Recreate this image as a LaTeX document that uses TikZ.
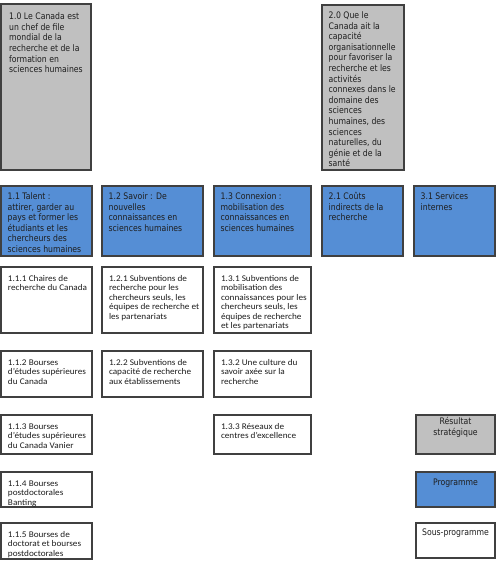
\documentclass[tikz,border=0pt]{standalone}
\usepackage{fontspec}
\newfontfamily\tahfont[FakeStretch=0.86]{DejaVu Sans}
\newfontfamily\calfont[FakeStretch=1.06]{Carlito}
\definecolor{bblue}{RGB}{85,142,213}
\definecolor{bgrey}{RGB}{192,192,192}
\definecolor{bline}{RGB}{64,64,64}
\definecolor{btext}{RGB}{30,30,30}
\newcommand\bx[7]{%
  \node[#1, minimum width=#5pt, minimum height=#6pt] (#2) at (#3,#4) {};
  \node[#1txt] (#2t) at (#2.north west) {\parbox[t]{150pt}{\raggedright #7}};}
\newcommand\lgtext[1]{\parbox[t]{120pt}{\centering #1}}
\tikzset{
  boxbase/.style={draw=bline, line width=1.1pt, anchor=north west, inner sep=0pt, outer sep=0pt},
  txtbase/.style={anchor=north west, text=btext, text height=7pt, inner xsep=6.5pt},
  greybox/.style={boxbase, fill=bgrey},
  greyboxtxt/.style={txtbase, inner ysep=6.3pt, font=\tahfont\fontsize{9}{10.6}\selectfont},
  greyonebox/.style={boxbase, fill=bgrey},
  greyoneboxtxt/.style={txtbase, inner ysep=8.6pt, inner xsep=8pt, font=\tahfont\fontsize{9}{10.6}\selectfont},
  bluebox/.style={boxbase, fill=bblue},
  blueboxtxt/.style={txtbase, inner ysep=6.3pt, font=\tahfont\fontsize{9}{10.6}\selectfont},
  whitebox/.style={boxbase, fill=white},
  whiteboxtxt/.style={txtbase, inner ysep=7pt, inner xsep=6.8pt, font=\calfont\fontsize{8.7}{9.5}\selectfont},
  legtxt/.style={anchor=north, text=btext, text height=7pt, inner xsep=0pt, font=\tahfont\fontsize{9}{10.6}\selectfont},
}
\begin{document}
\begin{tikzpicture}[x=1pt,y=-1pt]
\useasboundingbox (0,0) rectangle (500,561);
% strategic outcomes
\bx{greyonebox}{so1}{1}{4}{90}{166}{1.0 Le Canada est\\un chef de file\\mondial de la\\recherche et de la\\formation en\\sciences humaines}
\bx{greybox}{so2}{322}{5}{82}{165}{2.0 Que le\\Canada ait la\\capacité\\organisationnelle\\pour favoriser la\\recherche et les\\activités\\connexes dans le\\domaine des\\sciences\\humaines, des\\sciences\\naturelles, du\\génie et de la\\santé}
% programmes
\bx{bluebox}{p11}{1}{186}{91}{70}{1.1 Talent :\\attirer, garder au\\pays et former les\\étudiants et les\\chercheurs des\\sciences humaines}
\bx{bluebox}{p12}{102}{186}{101}{70}{1.2 Savoir : De\\nouvelles\\connaissances en\\sciences humaines}
\bx{bluebox}{p13}{214}{186}{97}{70}{1.3 Connexion :\\mobilisation des\\connaissances en\\sciences humaines}
\bx{bluebox}{p21}{322}{186}{81}{70}{2.1 Coûts\\indirects de la\\recherche}
\bx{bluebox}{p31}{414}{186}{81}{70}{3.1 Services\\internes}
% sub-programmes
\bx{whitebox}{s111}{1}{267}{91}{66}{1.1.1 Chaires de\\recherche du Canada}
\bx{whitebox}{s121}{102}{267}{101}{66}{1.2.1 Subventions de\\recherche pour les\\chercheurs seuls, les\\équipes de recherche et\\les partenariats}
\bx{whitebox}{s131}{214}{267}{97}{66}{1.3.1 Subventions de\\mobilisation des\\connaissances pour les\\chercheurs seuls, les\\équipes de recherche\\et les partenariats}
\bx{whitebox}{s112}{1}{351}{91}{46}{1.1.2 Bourses\\d’études supérieures\\du Canada}
\bx{whitebox}{s122}{102}{351}{101}{46}{1.2.2 Subventions de\\capacité de recherche\\aux établissements}
\bx{whitebox}{s132}{214}{351}{97}{46}{1.3.2 Une culture du\\savoir axée sur la\\recherche}
\bx{whitebox}{s113}{1}{415}{91}{39}{1.1.3 Bourses\\d’études supérieures\\du Canada Vanier}
\bx{whitebox}{s133}{214}{415}{97}{39}{1.3.3 Réseaux de\\centres d’excellence}
\bx{whitebox}{s114}{1}{472}{91}{35}{1.1.4 Bourses\\postdoctorales\\Banting}
\bx{whitebox}{s115}{1}{523}{91}{36}{1.1.5 Bourses de\\doctorat et bourses\\postdoctorales}
% legend
\node[greybox, minimum width=79pt, minimum height=39pt] (lg1) at (416,415) {};
\node[legtxt, inner ysep=2.6pt] (lg1t) at (lg1.north) {\lgtext{Résultat\\stratégique}};
\node[bluebox, minimum width=79pt, minimum height=35pt] (lg2) at (416,472) {};
\node[legtxt, inner ysep=6.6pt] (lg2t) at (lg2.north) {\lgtext{Programme}};
\node[whitebox, minimum width=79pt, minimum height=35pt] (lg3) at (416,523) {};
\node[legtxt, inner ysep=5.6pt] (lg3t) at (lg3.north) {\lgtext{Sous-programme}};
\end{tikzpicture}
\end{document}
